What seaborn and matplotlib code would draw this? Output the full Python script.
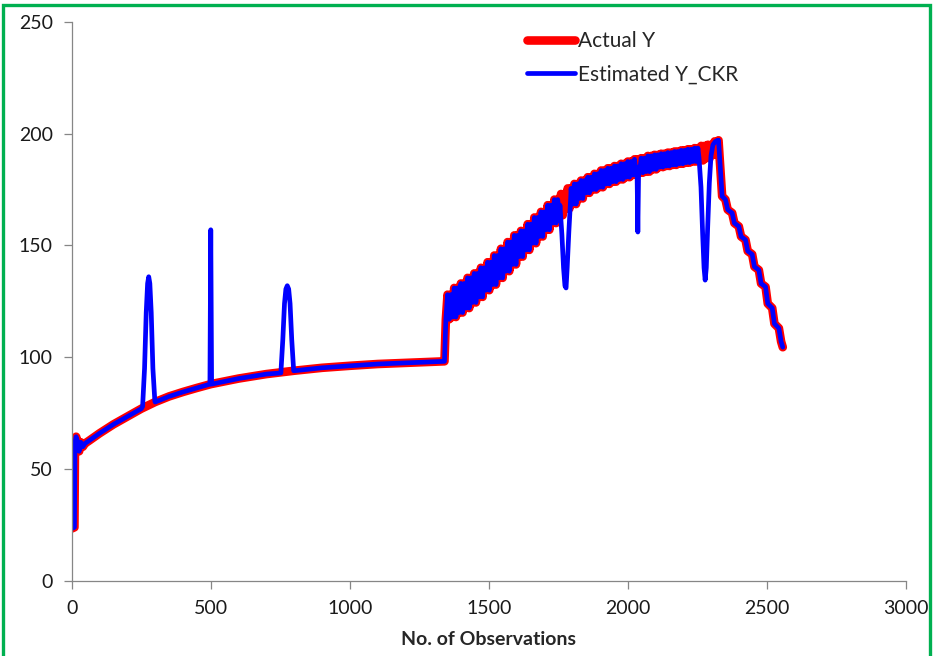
import numpy as np
import pandas as pd
import matplotlib
matplotlib.use('Agg')
import matplotlib.pyplot as plt
import seaborn as sns
from matplotlib.patches import Rectangle

# --- values ---
# first observations: low start, jump up, small wiggle
start_x = [1, 10, 12, 16, 22, 27, 33, 40, 48]
start_y = [23.5, 24, 62, 64.5, 62, 58, 62, 60, 61.5]

# smooth rising part up to the level shift
smooth_x = [60, 100, 150, 200, 250, 300, 350, 400, 450, 500, 600, 700, 800,
            900, 1000, 1100, 1200, 1300, 1340]
smooth_y = [62.5, 66, 70, 73.5, 77, 80, 82.5, 84.5, 86.3, 88, 90.5, 92.5, 94,
            95.3, 96.2, 97, 97.5, 98, 98.2]

# daily band after the level shift (24 obs per day): low / high of each day
band_day = [1345, 1369, 1393, 1417, 1441, 1465, 1489, 1513, 1537, 1561, 1585,
            1609, 1633, 1657, 1681, 1705, 1729, 1753, 1777, 1801, 1825, 1849,
            1873, 1897, 1921, 1945, 1969, 1993, 2017, 2041, 2065, 2089, 2113,
            2137, 2161, 2185, 2209, 2233, 2257, 2281, 2305]
band_lo = [117, 118, 120, 122, 124.5, 127, 130, 132.5, 135.5, 138.5, 141.5,
           145, 148, 151, 154, 157, 160, 163.5, 166.5, 168.5, 171, 173.5,
           175, 176, 177.5, 178.5, 179.5, 180.5, 181.5, 182.5, 183, 184, 185,
           185.5, 186, 186.5, 187, 187.5, 188, 189, 190.5]
band_hi = [128, 131, 133, 135.5, 137.5, 140, 142.5, 145.5, 148.5, 151.5, 154.5,
           156.5, 159.5, 162.5, 165, 168, 170.5, 173, 175.5, 177.5, 179, 180.5,
           182, 183.5, 184.5, 185.5, 186.5, 187.5, 188.5, 189, 190, 190.5, 191,
           191.5, 192, 192.5, 193, 193.5, 194.5, 195, 196.5]

# peak and stepwise decline at the end
tail_x = [2325, 2338, 2350, 2358, 2374, 2382, 2398, 2406, 2422, 2430, 2446,
          2454, 2470, 2478, 2494, 2502, 2518, 2526, 2542, 2550, 2556]
tail_y = [197, 172, 170.5, 166, 164.5, 160, 158.5, 154, 152.5, 147.5, 146,
          140.5, 139, 133, 131.5, 124, 122, 115, 113, 107, 104.5]

# spikes / dips where the CKR estimate leaves the actual series
spike1_x = [255, 262, 268, 273, 277, 281, 286, 292, 299]
spike1_y = [78, 95, 120, 133, 136, 133, 120, 95, 80.5]
spike2_x = [497, 500, 503]
spike2_y = [88, 157, 88]
spike3_x = [752, 759, 765, 770, 775, 780, 785, 791, 798]
spike3_y = [93, 108, 124, 130.5, 132, 130.5, 124, 108, 94]
dip1_x = [1755, 1762, 1768, 1773, 1777, 1781, 1787, 1794]
dip1_y = [168, 155, 140, 132, 131, 140, 156, 172]
dip2_x = [2032, 2035, 2038]
dip2_y = [185, 156, 185]
dip3_x = [2255, 2262, 2268, 2273, 2277, 2281, 2286, 2292, 2298, 2305, 2314, 2322]
dip3_y = [189, 176, 155, 140, 134.5, 140, 158, 178, 190, 195, 196.5, 197]

# --- build series ---
actual_x = start_x + smooth_x
actual_y = start_y + smooth_y
# two up/down swings inside each day
for d, lo, hi in zip(band_day, band_lo, band_hi):
    actual_x += [d, d + 6, d + 12, d + 18]
    actual_y += [lo, hi, lo, hi]
actual_x += tail_x
actual_y += tail_y
df_act = pd.DataFrame({'obs': actual_x, 'y': actual_y})

# estimated = actual, with the spike windows replaced
est = df_act.copy()
for sx, sy in [(spike1_x, spike1_y), (spike2_x, spike2_y), (spike3_x, spike3_y),
               (dip1_x, dip1_y), (dip2_x, dip2_y), (dip3_x, dip3_y)]:
    est = est[(est['obs'] < min(sx)) | (est['obs'] > max(sx))]
    est = pd.concat([est, pd.DataFrame({'obs': sx, 'y': sy})])
df_est = est.sort_values('obs').reset_index(drop=True)

# --- plot ---
sns.set_style('white')
plt.rcParams['font.family'] = ['Lato', 'DejaVu Sans']

fig = plt.figure(figsize=(9.33, 6.56), dpi=100)
ax = fig.add_axes([0.0768, 0.1143, 0.8946, 0.8526])

line_kw = dict(solid_joinstyle='round', solid_capstyle='round')
sns.lineplot(data=df_act, x='obs', y='y', ax=ax, color='#FF0000', linewidth=6.2,
             estimator=None, sort=False, label='Actual Y', **line_kw)
sns.lineplot(data=df_est, x='obs', y='y', ax=ax, color='#0000FF', linewidth=3.4,
             estimator=None, sort=False, label='Estimated Y_CKR', **line_kw)

ax.set_xlim(0, 3000)
ax.set_ylim(0, 250)
ax.set_xticks(range(0, 3001, 500))
ax.set_yticks(range(0, 251, 50))
ax.set_xlabel('No. of Observations', fontsize=14, fontweight='bold', labelpad=10)
ax.set_ylabel('')

for s in ['top', 'right']:
    ax.spines[s].set_visible(False)
for s in ['left', 'bottom']:
    ax.spines[s].set_color('#868686')
    ax.spines[s].set_linewidth(0.9)
ax.tick_params(axis='both', direction='out', length=5.5, width=0.9,
               color='#868686', labelsize=14, labelcolor='#1a1a1a', pad=8)
ax.tick_params(left=True, bottom=True)

leg = ax.legend(loc='upper left', bbox_to_anchor=(0.565, 0.953),
                bbox_transform=fig.transFigure, frameon=False, fontsize=15,
                handlelength=2.3, handletextpad=0.15, labelspacing=0.65,
                borderpad=0, borderaxespad=0)

# green frame around the chart
fig.patches.append(Rectangle((3.3 / 933, -0.05), (929.5 - 3.3) / 933,
                             1.05 - 5.5 / 656, transform=fig.transFigure,
                             fill=False, edgecolor='#00B050', linewidth=2.4))

fig.savefig('out.png', dpi=100)
